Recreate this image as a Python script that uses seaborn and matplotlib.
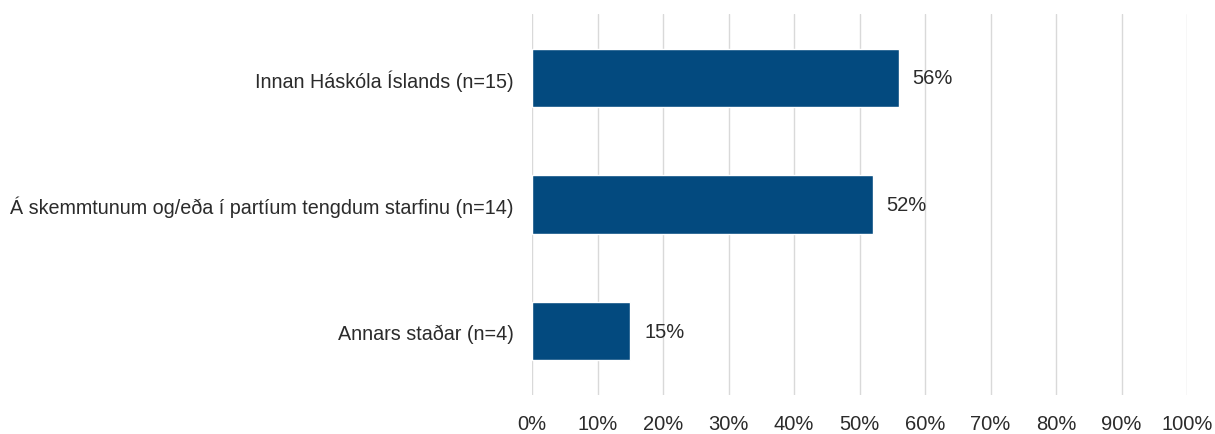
import matplotlib
matplotlib.use("Agg")
import matplotlib.pyplot as plt
import seaborn as sns
import pandas as pd

categories = [
    "Innan Háskóla Íslands (n=15)",
    "Á skemmtunum og/eða í partíum tengdum starfinu (n=14)",
    "Annars staðar (n=4)",
]
values = [56, 52, 15]
xticks = list(range(0, 101, 10))

sns.set_theme(style="white")
plt.rcParams["font.family"] = ["Liberation Sans", "DejaVu Sans"]

df = pd.DataFrame({"cat": categories, "val": values})

fig = plt.figure(figsize=(12.15, 4.35), dpi=100)
ax = fig.add_axes([0.4379, 0.0908, 0.5391, 0.8736])
sns.barplot(data=df, y="cat", x="val", color="#034A7F", width=0.46,
            saturation=1, ax=ax, zorder=3)

ax.set_xlim(0, 100)
ax.set_ylim(2.5, -0.5)
ax.set_xticks(xticks)
ax.set_xticklabels([f"{t}%" for t in xticks], fontsize=14.5, color="#2b2b2b")
ax.tick_params(axis="y", labelsize=14.2, colors="#2b2b2b", length=0, pad=13)
ax.tick_params(axis="x", length=4, width=1, color="#d9d9d9", direction="out", pad=10)
ax.xaxis.grid(True, color="#d9d9d9", linewidth=1, zorder=0)
ax.set_axisbelow(True)
for s in ax.spines.values():
    s.set_visible(False)
ax.set_xlabel("")
ax.set_ylabel("")

for i, v in enumerate(values):
    ax.annotate(f"{v}%", xy=(v, i), xytext=(10, 0), textcoords="offset points",
                va="center", ha="left", fontsize=14.5, color="#2b2b2b")

fig.savefig("out.png", dpi=100)
